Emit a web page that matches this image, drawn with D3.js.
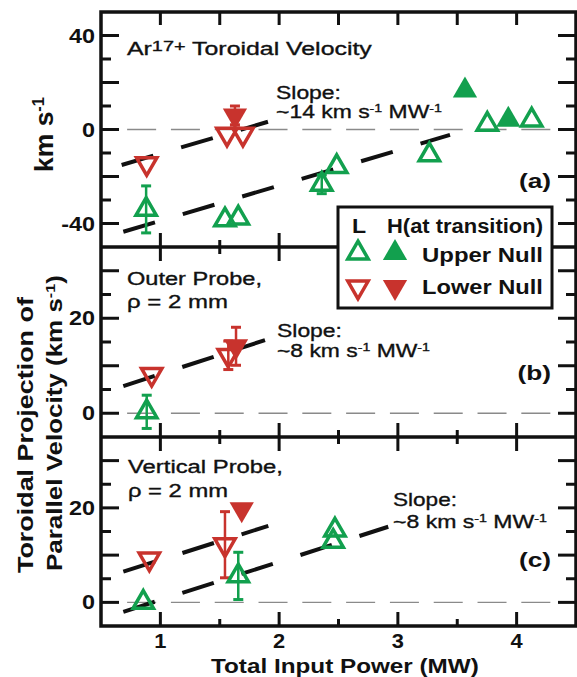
<!DOCTYPE html>
<html><head><meta charset="utf-8">
<script src="https://cdn.jsdelivr.net/npm/d3@7"></script>
<style>body{margin:0;background:#fff}svg{display:block}</style>
</head><body>
<script>
// ---------- data ----------
const xDomain = [0.5, 4.5];
const xMajor = [1, 2, 3, 4];
const xMinor = [1.5, 2.5, 3.5];
const xLabels = ["1", "2", "3", "4"];

const yDomainA = [-50, 50];
const yMajorA = [-40, -20, 0, 20, 40];
const yMinorA = [-30, -10, 10, 30];
const yLabelsA = [-40, 0, 40];

const yDomainBC = [-5, 35];
const yMajorBC = [0, 10, 20, 30];
const yMinorBC = [5, 15, 25];
const yLabelsBC = [0, 20];

const zeroLineX = [0.72, 4.29];

// [power MW, velocity km/s, error]
const aUpperL = [[0.88,-34,10],[1.544,-38.5,0],[1.656,-37.7,0],[2.359,-23.3,4],[2.485,-15.8,0],[3.265,-10.8,0],[3.753,2.2,0],[4.127,4.0,0]];
const aUpperH = [[3.565,16.6,0],[3.93,4.1,0]];
const aLowerL = [[0.885,-14.5,0],[1.561,-2.0,0],[1.695,-2.0,0]];
const aLowerH = [[1.628,6.0,4]];
const aFitUpper = [[0.674,-15.1],[1.906,3.3]];
const aFitLower = [[0.688,-43.5],[3.439,-2.3]];

const bUpperL = [[0.885,0.3,3.5]];
const bUpperH = [];
const bLowerL = [[0.927,8.2,0],[1.572,12.2,3]];
const bLowerH = [[1.637,14.1,4]];
const bFit = [[0.688,5.7],[1.881,15.4]];

const cUpperL = [[0.856,0.0,0],[1.656,5.6,5],[2.47,15.3,0],[2.455,12.9,0]];
const cUpperH = [];
const cLowerL = [[0.907,9.2,0],[1.544,12.2,7]];
const cLowerH = [[1.685,19.7,0]];
const cFitUpper = [[0.688,6.5],[1.909,16.2]];
const cFitLower = [[0.688,-2.0],[2.919,16.0]];

// ---------- layout ----------
const W = 577, H = 677;
const L = 101, R = 576;
const GREEN = "#12a04e", RED = "#c8332d";
const FONT = "'Liberation Sans', Arial, Helvetica, sans-serif";

const svg = d3.select("body").append("svg").attr("width", W).attr("height", H);
const x = d3.scaleLinear().domain(xDomain).range([L, R]);
const yA = d3.scaleLinear().domain(yDomainA).range([247, 12]);
const yB = d3.scaleLinear().domain(yDomainBC).range([437, 247]);
const yC = d3.scaleLinear().domain(yDomainBC).range([626, 437]);

const gLines = svg.append("g");
const gErr = svg.append("g");
const gSym = svg.append("g");
const gAxes = svg.append("g");
const gText = svg.append("g");

const SO = 180, SF = 255;
const sym = s => d3.symbol().type(d3.symbolTriangle).size(s)();

function zeroLine(y) {
  gLines.append("line")
    .attr("x1", x(zeroLineX[0])).attr("x2", x(zeroLineX[1]))
    .attr("y1", y(0)).attr("y2", y(0))
    .attr("stroke", "#8a8a8a").attr("stroke-width", 1.4)
    .attr("stroke-dasharray", "29,14.8");
}
function fitLine(y, pts) {
  gLines.append("path")
    .attr("d", d3.line().x(d => x(d[0])).y(d => y(d[1]))(pts))
    .attr("fill", "none").attr("stroke", "#111").attr("stroke-width", 4)
    .attr("stroke-dasharray", "33,29");
}
function points(y, pts, color, filled, down) {
  pts.forEach(p => {
    if (p[2]) {
      const cx = x(p[0]);
      gErr.append("line").attr("x1", cx).attr("x2", cx)
        .attr("y1", y(p[1] - p[2])).attr("y2", y(p[1] + p[2]))
        .attr("stroke", color).attr("stroke-width", 2.5);
      [p[1] - p[2], p[1] + p[2]].forEach(v => {
        gErr.append("line").attr("x1", cx - 5).attr("x2", cx + 5)
          .attr("y1", y(v)).attr("y2", y(v))
          .attr("stroke", color).attr("stroke-width", 3);
      });
    }
    gSym.append("path").attr("d", sym(filled ? SF : SO))
      .attr("transform", `translate(${x(p[0])},${y(p[1])}) rotate(${down ? 180 : 0})`)
      .attr("fill", filled ? color : "none")
      .attr("stroke", filled ? "none" : color)
      .attr("stroke-width", 3.5);
  });
}

function label(px, py, parts, o = {}) {
  const size = o.size || 19;
  const g = gText.append("g");
  const t = g.append("text")
    .attr("font-family", FONT).attr("font-size", size)
    .attr("font-weight", o.weight || "normal")
    .attr("text-anchor", o.anchor || "start").attr("fill", "#111");
  if (!o.weight) t.attr("stroke", "#111").attr("stroke-width", 0.35);
  let shift = 0;
  parts.forEach(p => {
    const s = typeof p === "string" ? { t: p } : p;
    const ts = t.append("tspan").text(s.t);
    if (s.sup) {
      ts.attr("font-size", size * (s.k || 0.62));
      const d = -size * (s.r || 0.33) - shift;
      ts.attr("dy", d); shift += d;
    } else if (shift !== 0) { ts.attr("dy", -shift); shift = 0; }
  });
  let k = o.sx || 1.2;
  if (o.width) k = o.width / t.node().getComputedTextLength();
  g.attr("transform", `translate(${px},${py}) rotate(${o.rot || 0}) scale(${k},1)`);
}

// ---------- panels ----------
zeroLine(yA); zeroLine(yB); zeroLine(yC);
fitLine(yA, aFitUpper); fitLine(yA, aFitLower);
fitLine(yB, bFit);
fitLine(yC, cFitUpper); fitLine(yC, cFitLower);

[[yA, aUpperL, aUpperH, aLowerL, aLowerH],
 [yB, bUpperL, bUpperH, bLowerL, bLowerH],
 [yC, cUpperL, cUpperH, cLowerL, cLowerH]].forEach(([y, uL, uH, lL, lH]) => {
  points(y, lL, RED, false, true);
  points(y, lH, RED, true, true);
  points(y, uL, GREEN, false, false);
  points(y, uH, GREEN, true, false);
});

// ---------- frame & ticks ----------
const stroke = "#111";
gAxes.append("rect").attr("x", L).attr("y", 12).attr("width", R - L).attr("height", 614)
  .attr("fill", "none").attr("stroke", stroke).attr("stroke-width", 3.5);
[247, 437].forEach(yy => gAxes.append("line").attr("x1", L).attr("x2", R)
  .attr("y1", yy).attr("y2", yy).attr("stroke", stroke).attr("stroke-width", 3.5));

function tick(x1, y1, x2, y2) {
  gAxes.append("line").attr("x1", x1).attr("y1", y1).attr("x2", x2).attr("y2", y2)
    .attr("stroke", stroke).attr("stroke-width", 3);
}
xMajor.concat(xMinor).forEach(v => tick(x(v), 12, x(v), 25));
xMajor.forEach(v => { [247, 437].forEach(yy => tick(x(v), yy - 14, x(v), yy + 14)); tick(x(v), 626, x(v), 612); });
xMinor.forEach(v => { [247, 437].forEach(yy => tick(x(v), yy - 7, x(v), yy + 7)); tick(x(v), 626, x(v), 619); });
function yTicks(y, maj, min) {
  maj.forEach(v => { tick(L, y(v), L + 18, y(v)); tick(R, y(v), R - 18, y(v)); });
  min.forEach(v => { tick(L, y(v), L + 10, y(v)); tick(R, y(v), R - 10, y(v)); });
}
yTicks(yA, yMajorA, yMinorA);
yTicks(yB, yMajorBC, yMinorBC);
yTicks(yC, yMajorBC, yMinorBC);

// tick labels
yLabelsA.forEach(v => label(95, yA(v) + 7, [String(v)], { size: 19.5, weight: "bold", anchor: "end", sx: 1.2 }));
[yB, yC].forEach(y => yLabelsBC.forEach(v => label(95, y(v) + 7, [String(v)], { size: 19.5, weight: "bold", anchor: "end", sx: 1.2 })));
xMajor.forEach((v, i) => label(x(v), 648, [xLabels[i]], { size: 19.5, weight: "bold", anchor: "middle", sx: 1.12 }));

// axis titles
label(211, 673, ["Total Input Power (MW)"], { size: 21, weight: "bold", width: 268 });
label(53, 172, ["km s", { t: "-1", sup: true }], { size: 26, weight: "bold", rot: -90, width: 75 });
label(33, 573, ["Toroidal Projection of"], { size: 22, weight: "bold", rot: -90, width: 276 });
label(62, 571, ["Parallel Velocity (km s", { t: "-1", sup: true }, ")"], { size: 22, weight: "bold", rot: -90, width: 296 });

// annotations
label(127, 55, ["Ar", { t: "17+", sup: true, k: 0.8, r: 0.22 }, " Toroidal Velocity"], { size: 18.5, width: 245 });
label(276, 99, ["Slope:"], { size: 19, width: 65 });
label(276, 118, ["~14 km s", { t: "-1", sup: true }, " MW", { t: "-1", sup: true }], { size: 19, width: 166 });
label(551, 188, ["(a)"], { size: 21, weight: "bold", anchor: "end", sx: 1.25 });

label(127, 285, ["Outer Probe,"], { size: 18.5, width: 135 });
label(127, 308, ["\u03c1 = 2 mm"], { size: 18.5, width: 101 });
label(277, 337, ["Slope:"], { size: 19, width: 65 });
label(277, 357, ["~8 km s", { t: "-1", sup: true }, " MW", { t: "-1", sup: true }], { size: 19, width: 153 });
label(551, 380, ["(b)"], { size: 21, weight: "bold", anchor: "end", sx: 1.25 });

label(128, 473, ["Vertical Probe,"], { size: 18.5, width: 155 });
label(128, 497, ["\u03c1 = 2 mm"], { size: 18.5, width: 100 });
label(393, 506, ["Slope:"], { size: 19, width: 64 });
label(393, 528, ["~8 km s", { t: "-1", sup: true }, " MW", { t: "-1", sup: true }], { size: 19, width: 154 });
label(551, 567, ["(c)"], { size: 21, weight: "bold", anchor: "end", sx: 1.25 });

// ---------- legend ----------
const lg = svg.append("g");
lg.append("rect").attr("x", 338).attr("y", 207).attr("width", 214).attr("height", 101)
  .attr("fill", "#fff").attr("stroke", stroke).attr("stroke-width", 3);
const legRows = [
  { c: GREEN, down: false, text: "Upper Null", yy: 253, base: 262 },
  { c: RED, down: true, text: "Lower Null", yy: 287, base: 294 }
];
legRows.forEach(r => {
  lg.append("path").attr("d", sym(SO)).attr("transform", `translate(358,${r.yy}) rotate(${r.down ? 180 : 0})`)
    .attr("fill", "none").attr("stroke", r.c).attr("stroke-width", 3.5);
  lg.append("path").attr("d", sym(SF)).attr("transform", `translate(395,${r.yy}) rotate(${r.down ? 180 : 0})`)
    .attr("fill", r.c);
});
gText.raise();
label(352, 233, ["L"], { size: 21, weight: "bold", sx: 1.1 });
label(387, 233, ["H(at transition)"], { size: 20, weight: "bold", width: 156 });
legRows.forEach(r => label(422, r.base, [r.text], { size: 21, weight: "bold", width: 121 }));
</script>
</body></html>
